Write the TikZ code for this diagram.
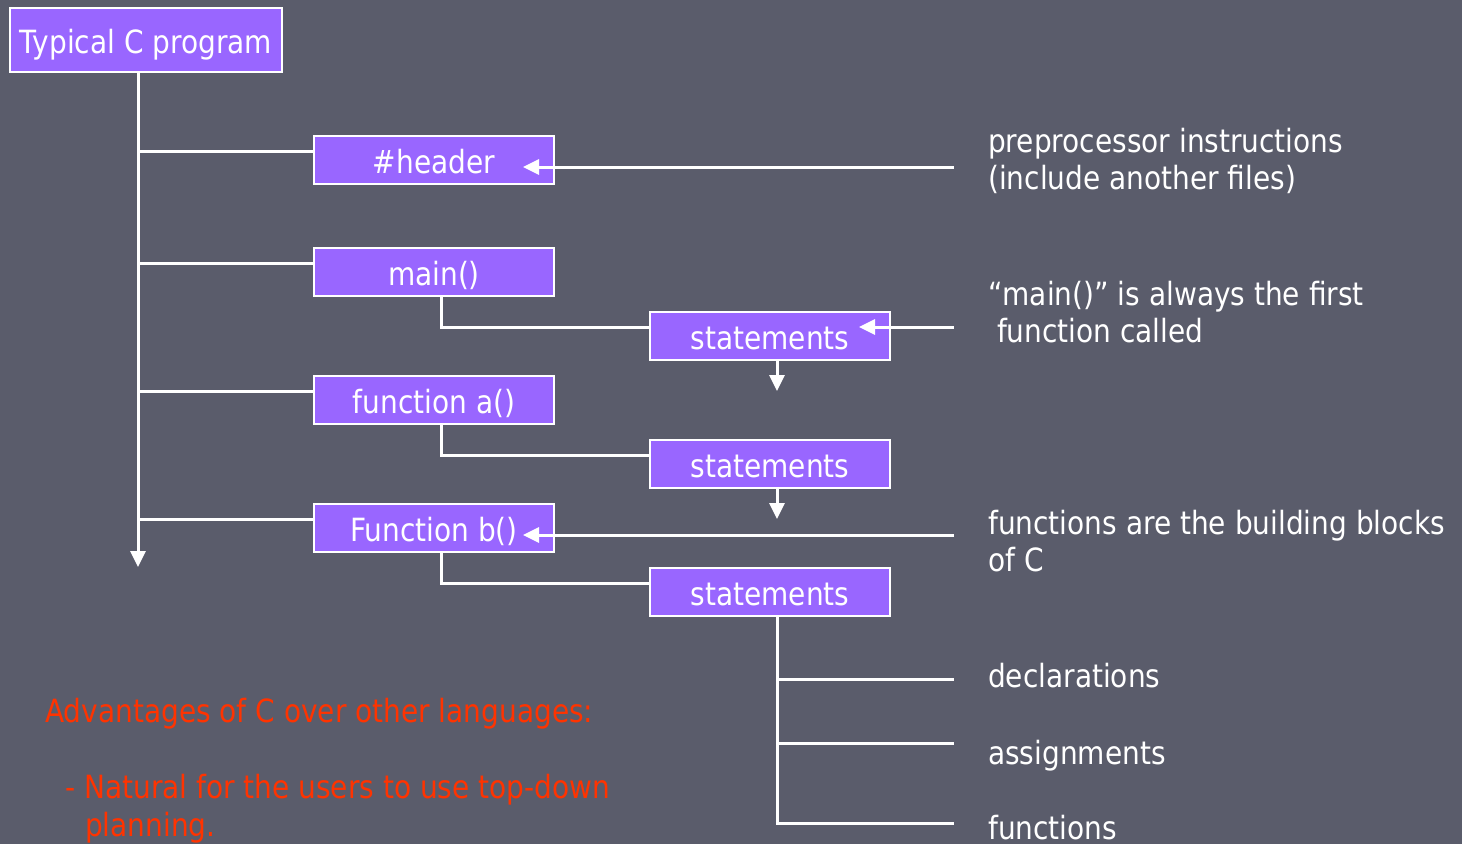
\documentclass[tikz,border=0pt]{standalone}
\usepackage{fontspec}
\setmainfont[FakeStretch=0.875]{DejaVu Sans}
\usetikzlibrary{arrows.meta,calc}
\definecolor{slate}{HTML}{5A5C6B}
\definecolor{boxfill}{HTML}{9966FF}
\definecolor{note}{HTML}{FF3300}
\tikzset{
  wire/.style={draw=white, line width=3pt},
  arrowwire/.style={wire, -{Triangle[length=16pt,width=15pt]}},
  fbox/.style={draw=white, line width=2pt, fill=boxfill, text=white,
    minimum width=240pt, minimum height=48pt, inner sep=0pt,
    text height=26pt, text depth=0pt,
    font=\fontsize{32}{38}\selectfont},
  label/.style={text=white, anchor=base west, inner sep=0pt,
    font=\fontsize{32}{38}\selectfont},
  redlabel/.style={label, text=note},
}
\begin{document}
\begin{tikzpicture}[x=1pt,y=-1pt]
  % background
  \fill[slate] (0,0) rectangle (1462,844);
  \useasboundingbox (0,0) rectangle (1462,844);

  % boxes
  \node[fbox, minimum width=272pt, minimum height=64pt] (top) at (146,40) {Typical C program};
  \node[fbox] (hdr) at (434,160) {\#header};
  \node[fbox] (mainf) at (434,272) {main()};
  \node[fbox] (fa) at (434,400) {function a()};
  \node[fbox] (fb) at (434,528) {Function b()};
  \node[fbox] (st1) at (770,336) {statements};
  \node[fbox] (st2) at (770,464) {statements};
  \node[fbox] (st3) at (770,592) {statements};

  % right-hand notes
  \node[label] (n1) at (988,152) {preprocessor instructions};
  \node[label] (n1b) at (988,189) {(include another files)};
  \node[label] (n2) at (988,305) {“main()” is always the first};
  \node[label] (n2b) at (988,342) {\ function called};
  \node[label] (n3) at (988,534) {functions are the building blocks};
  \node[label] (n3b) at (988,571) {of C};
  \node[label] (d1) at (988,687) {declarations};
  \node[label] (d2) at (988,764) {assignments};
  \node[label] (d3) at (988,839) {functions};

  % advantages
  \node[redlabel] (adv) at (45,722) {Advantages of C over other languages:};
  \node[redlabel] (adv1) at (65,798) {- Natural for the users to use top-down};
  \node[redlabel] (adv2) at (85,836) {planning.};

  % main trunk
  \coordinate (t0) at (138,72);
  \coordinate (tend) at (138,567);
  \draw[arrowwire] (t0) -- (tend);
  \foreach \b in {hdr,mainf,fa,fb}{
    \path ([yshift=9pt]\b.west) coordinate (bw);
    \draw[wire] (t0 |- bw) -- (bw);
  }

  % function bodies
  \draw[wire] ([xshift=7pt]mainf.south) |- ([yshift=9pt]st1.west);
  \draw[wire] ([xshift=7pt]fa.south) |- ([yshift=9pt]st2.west);
  \draw[wire] ([xshift=7pt]fb.south) |- ([yshift=9pt]st3.west);

  % flow between statements
  \coordinate (s1d) at (777,391);
  \coordinate (s2d) at (777,519);
  \draw[arrowwire] ([xshift=7pt]st1.south) -- (s1d);
  \draw[arrowwire] ([xshift=7pt]st2.south) -- (s2d);

  % note pointers
  \coordinate (p1) at (954,167);
  \coordinate (p2) at (954,327);
  \coordinate (p3) at (954,535);
  \draw[arrowwire] (p1) -- ([xshift=-32pt,yshift=-7pt]hdr.east);
  \draw[arrowwire] (p2) -- ([xshift=-32pt,yshift=9pt]st1.east);
  \draw[arrowwire] (p3) -- ([xshift=-32pt,yshift=-7pt]fb.east);

  % statement kinds
  \coordinate (k1) at (954,679);
  \coordinate (k2) at (954,743);
  \coordinate (k3) at (954,823);
  \path ([xshift=7pt]st3.south) coordinate (s3s);
  \draw[wire] (s3s) |- (k3);
  \draw[wire] (s3s |- k1) -- (k1);
  \draw[wire] (s3s |- k2) -- (k2);
\end{tikzpicture}
\end{document}
